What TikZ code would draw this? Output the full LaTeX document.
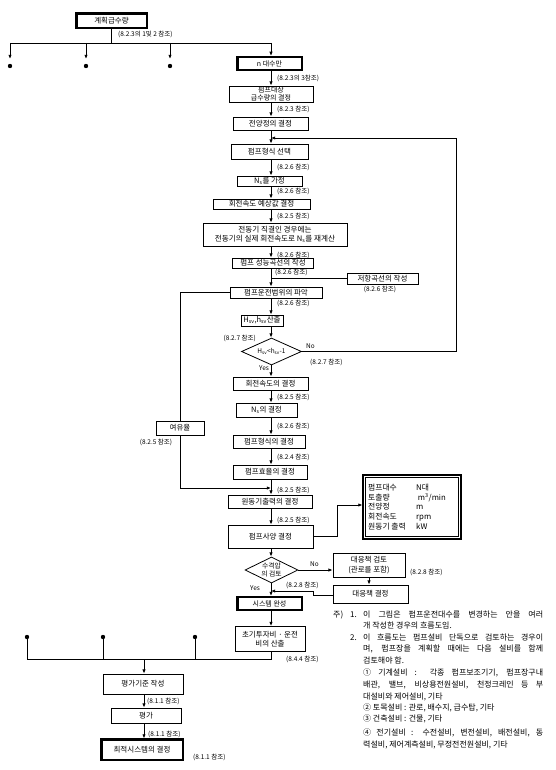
\documentclass[tikz,border=0pt]{standalone}
\usepackage{fontspec}
\setmainfont{Noto Sans CJK KR}
\usetikzlibrary{arrows.meta,shapes.geometric}
\begin{document}
\begin{tikzpicture}[x=1pt,y=-1pt,
  box/.style={draw, line width=0.8pt, rectangle, inner sep=0.5pt, align=center,
     font=\fontsize{7.5}{8}\selectfont},
  dbox/.style={box, line width=1.1pt},
  inbox/.style={line width=0.55pt},
  ref/.style={inner sep=0pt, font=\fontsize{6.5}{7}\selectfont},
  note/.style={inner sep=0pt, anchor=base west, font=\fontsize{8}{8}\selectfont},
  arr/.style={-{Latex[length=4.2pt,width=3.4pt]}, line width=0.8pt},
  ln/.style={line width=0.8pt},
  dot/.style={circle, fill, inner sep=0pt, minimum size=4.4pt},
  dia/.style={diamond, draw, line width=0.8pt, inner sep=0pt}]
\useasboundingbox (0,0) rectangle (555,770);
\fill[white] (0,0) rectangle (555,770);
\coordinate (mc) at (271,0);

% ---------- top ----------
\node[dbox, minimum width=71pt, minimum height=15pt] (plan) at (111.5,20.5) {계획급수량};
\coordinate (j0) at (111.5,43);
\coordinate (b1) at (10,43);
\coordinate (b2) at (86,43);
\coordinate (b3) at (170,43);
\coordinate (b4) at (271,43);
\coordinate (e1) at (10,59);
\coordinate (e2) at (86,59);
\coordinate (e3) at (170,59);
\node[dot] (d1) at (10,66) {};
\node[dot] (d2) at (86,66) {};
\node[dot] (d3) at (170,66) {};
\draw[ln] (plan.south) -- (j0);
\draw[ln] (b1) -- (b4);
\draw[arr] (b1) -- (e1);
\draw[arr] (b2) -- (e2);
\draw[arr] (b3) -- (e3);
\node[ref, anchor=west] (r0) at (118,34) {(8.2.3의 1및 2 참조)};

% ---------- main column ----------
\node[dbox, minimum width=65pt, minimum height=14pt, font=\fontsize{7}{7}\selectfont] (nmax) at (269.5,63.5) {n 대수만};
\node[box, minimum width=84pt, minimum height=16pt, font=\fontsize{7}{7.6}\selectfont] (qdet) at (271,94) {펌프대상\\급수량의 결정};
\node[box, minimum width=75pt, minimum height=13pt] (head) at (270.5,123.5) {전양정의 결정};
\node[box, minimum width=77pt, minimum height=15pt] (type) at (269.5,151.5) {펌프형식 선택};
\node[box, minimum width=65pt, minimum height=10pt] (ns) at (269.5,181) {N\textsubscript{s}를 가정};
\node[box, minimum width=97pt, minimum height=10pt] (speed) at (261.5,204) {회전속도 예상값 결정};
\node[box, minimum width=144pt, minimum height=23pt, font=\fontsize{7.6}{9}\selectfont] (recalc) at (275,234.5) {전동기 직결인 경우에는\\전동기의 실제 회전속도로 N\textsubscript{s}를 재계산};
\node[box, minimum width=81pt, minimum height=10pt] (curve) at (273,263) {펌프 성능곡선의 작성};
\node[box, minimum width=71pt, minimum height=11pt] (resist) at (382.5,278.5) {저항곡선의 작성};
\node[box, minimum width=92pt, minimum height=11pt] (range) at (276,292.5) {펌프운전범위의 파악};
\node[box, minimum width=42pt, minimum height=11pt] (hsv) at (262,320.5) {H\textsubscript{sv},h\textsubscript{sv}산출};
\node[dia, minimum width=60pt, minimum height=27pt] (dia) at (271.5,351.5) {};
\node[inner sep=0pt, font=\fontsize{6.5}{7}\selectfont] (dial) at (dia.center) {H\textsubscript{sv}<h\textsubscript{sv}-1};
\node[box, minimum width=75pt, minimum height=13pt] (rpm) at (270.5,383.5) {회전속도의 결정};
\node[box, minimum width=61pt, minimum height=14pt] (nsd) at (266.5,410) {N\textsubscript{s}의 결정};
\node[box, minimum width=72pt, minimum height=13pt] (tdet) at (269,441.5) {펌프형식의 결정};
\node[box, minimum width=74pt, minimum height=14pt] (eff) at (270,472) {펌프효율의 결정};
\node[box, minimum width=84pt, minimum height=13pt] (motor) at (270,501.5) {원동기출력의 결정};
\node[box, minimum width=85pt, minimum height=23pt] (spec) at (270.5,536.5) {펌프사양 결정};
\node[box, minimum width=48pt, minimum height=14pt] (margin) at (180,428) {여유율};

% spec summary box
\node[dbox, minimum width=98pt, minimum height=64pt] (specbox) at (412,507) {};
\node[inner sep=0pt, anchor=west, align=left, font=\fontsize{7.8}{9.6}\selectfont] (spect) at (368,507)
 {\makebox[48pt][l]{펌프대수}N대\\
  \makebox[48pt][l]{토출량}~m\textsuperscript{3}/min\\
  \makebox[48pt][l]{전양정}m\\
  \makebox[48pt][l]{회전속도}rpm\\
  \makebox[48pt][l]{원동기 출력}kW};

% water hammer part
\node[dia, minimum width=53pt, minimum height=26pt] (wh) at (271.5,570) {};
\node[inner sep=0pt, align=center, font=\fontsize{6.8}{8}\selectfont] (whl) at (wh.center) {수격압\\의 검토};
\node[box, minimum width=72pt, minimum height=24pt, font=\fontsize{7.5}{9.5}\selectfont] (cm) at (369,565) {대응책 검토\\(관로를 포함)};
\node[box, minimum width=75pt, minimum height=18pt] (cmd) at (370.5,594) {대응책 결정};
\node[dbox, minimum width=65pt, minimum height=14pt, font=\fontsize{7}{7}\selectfont] (sys) at (269.5,603.5) {시스템 완성};
\node[box, minimum width=70pt, minimum height=25pt, font=\fontsize{7.5}{9.5}\selectfont] (cost) at (270,639) {초기투자비 · 운전\\비의 산출};

% bottom
\node[box, minimum width=80pt, minimum height=20pt] (evalc) at (143,684) {평가기준 작성};
\node[box, minimum width=70pt, minimum height=15pt] (ev) at (146,715.5) {평가};
\node[dbox, minimum width=82pt, minimum height=21pt] (opt) at (142,749.5) {최적시스템의 결정};
\node[dot] (bd1) at (27,637) {};
\node[dot] (bd2) at (103,637) {};
\node[dot] (bd3) at (195,637) {};

% inner rectangles of the double-framed boxes
\foreach \n in {plan,nmax,sys,opt}
  \draw[inbox] ([shift={(1.6pt,1.6pt)}]\n.south west) rectangle ([shift={(-1.6pt,-1.6pt)}]\n.north east);
\draw[inbox] ([shift={(3.2pt,3.2pt)}]specbox.south west) rectangle ([shift={(-3.2pt,-3.2pt)}]specbox.north east);

% ---------- connectors ----------
\draw[arr] (b4) -- (b4 |- nmax.north);
\foreach \a/\b in {nmax/qdet, qdet/head, head/type, type/ns, ns/speed, speed/recalc,
  recalc/curve, curve/range, range/hsv, hsv/dia, dia/rpm, rpm/nsd, nsd/tdet, tdet/eff,
  eff/motor, motor/spec, spec/wh, wh/sys, sys/cost}
  \draw[arr] (\a.south -| mc) -- (\b.north -| mc);

% feedback loop
\coordinate (fb1) at (456,351.5);
\coordinate (fb2) at (456,138);
\coordinate (fb3) at (271,138);
\draw[arr] (dia.east) -- (fb1) -- (fb2) -- (fb3);

% resistance curve
\draw[ln] (resist.west) -- (resist.west -| mc);

% margin loop
\draw[ln] (range.west) -- (range.west -| margin.north) -- (margin.north);
\coordinate (mg) at (180,488);
\draw[arr] (margin.south) -- (mg) -- (mg -| mc);

% spec summary
\coordinate (s2) at (337,505);
\draw[arr] (spec.east) -- (spec.east -| s2) -- (s2) -- (s2 -| specbox.west);

% countermeasures
\draw[arr] (wh.east) -- (wh.east -| cm.west);
\draw[arr] (cm.south) -- (cm.south |- cmd.north);
\coordinate (k1) at (313,595);
\coordinate (k2) at (313,591);
\coordinate (k3) at (271,591);
\draw[arr] (cmd.west |- k1) -- (k1) -- (k2) -- (k3);

% bottom merge
\coordinate (c1) at (271,659);
\coordinate (c0) at (27,659);
\coordinate (cj) at (144,659);
\draw[ln] (cost.south -| mc) -- (c1) -- (c0);
\draw[ln] (bd1) -- (bd1 |- c0);
\draw[ln] (bd2) -- (bd2 |- c0);
\draw[ln] (bd3) -- (bd3 |- c0);
\draw[arr] (cj) -- (cj |- evalc.north);
\draw[arr] (evalc.south -| cj) -- (cj |- ev.north);
\draw[arr] (ev.south -| cj) -- (cj |- opt.north);

% ---------- reference labels ----------
\node[ref, anchor=west] at (277,78) {(8.2.3의 3참조)};
\node[ref, anchor=west] at (277,109) {(8.2.3 참조)};
\node[ref, anchor=west] at (277,167) {(8.2.6 참조)};
\node[ref, anchor=west] at (277,191) {(8.2.6 참조)};
\node[ref, anchor=west] at (277,216) {(8.2.5 참조)};
\node[ref, anchor=west] at (277,255) {(8.2.6 참조)};
\node[ref, anchor=west] at (275,272) {(8.2.6 참조)};
\node[ref] at (380,289) {(8.2.6 참조)};
\node[ref, anchor=west] at (277,303) {(8.2.6 참조)};
\node[ref, anchor=east] at (256,338) {(8.2.7 참조)};
\node[ref, anchor=west] at (306,346) {No};
\node[ref, anchor=west] at (310,362) {(8.2.7 참조)};
\node[ref] at (264,368) {Yes};
\node[ref, anchor=west] at (277,397) {(8.2.5 참조)};
\node[ref, anchor=west] at (277,426) {(8.2.6 참조)};
\node[ref] at (156,442) {(8.2.5 참조)};
\node[ref, anchor=west] at (277,457) {(8.2.4 참조)};
\node[ref, anchor=west] at (277,490) {(8.2.5 참조)};
\node[ref, anchor=west] at (277,520) {(8.2.5 참조)};
\node[ref, anchor=west] at (310,564) {No};
\node[ref, anchor=west] at (410,572) {(8.2.8 참조)};
\node[ref, anchor=west] at (286,585) {(8.2.8 참조)};
\node[ref] at (255,588) {Yes};
\node[ref, anchor=west] at (286,659) {(8.4.4 참조)};
\node[ref, anchor=west] at (147,701) {(8.1.1 참조)};
\node[ref, anchor=west] at (148,734) {(8.1.1 참조)};
\node[ref, anchor=west] at (193,757) {(8.1.1 참조)};

% ---------- notes ----------
\node[note] at (333,617.5) {주)};
\node[note] at (350,617.5) {1.};
\node[note] at (363,617.5) {\makebox[180pt][s]{이 그림은 펌프운전대수를 변경하는 안을 여러}};
\node[note] at (363,628.5) {개 작성한 경우의 흐름도임.};
\node[note] at (350,640.5) {2.};
\node[note] at (363,640.5) {\makebox[180pt][s]{이 흐름도는 펌프설비 단독으로 검토하는 경우이}};
\node[note] at (363,651.5) {\makebox[180pt][s]{며, 펌프장을 계획할 때에는 다음 설비를 함께}};
\node[note] at (363,663.5) {검토해야 함.};
\node[note] at (363,675.5) {\makebox[180pt][s]{① 기계설비 : 각종 펌프보조기기, 펌프장구내}};
\node[note] at (363,687.5) {\makebox[180pt][s]{배관, 밸브, 비상용전원설비, 천정크레인 등 부}};
\node[note] at (363,699.5) {대설비와 제어설비, 기타};
\node[note] at (363,710.5) {② 토목설비 : 관로, 배수지, 급수탑, 기타};
\node[note] at (363,721.5) {③ 건축설비 : 건물, 기타};
\node[note] at (363,735.5) {\makebox[180pt][s]{④ 전기설비 : 수전설비, 변전설비, 배전설비, 동}};
\node[note] at (363,747.5) {력설비, 제어계측설비, 무정전전원설비, 기타};
\end{tikzpicture}
\end{document}
